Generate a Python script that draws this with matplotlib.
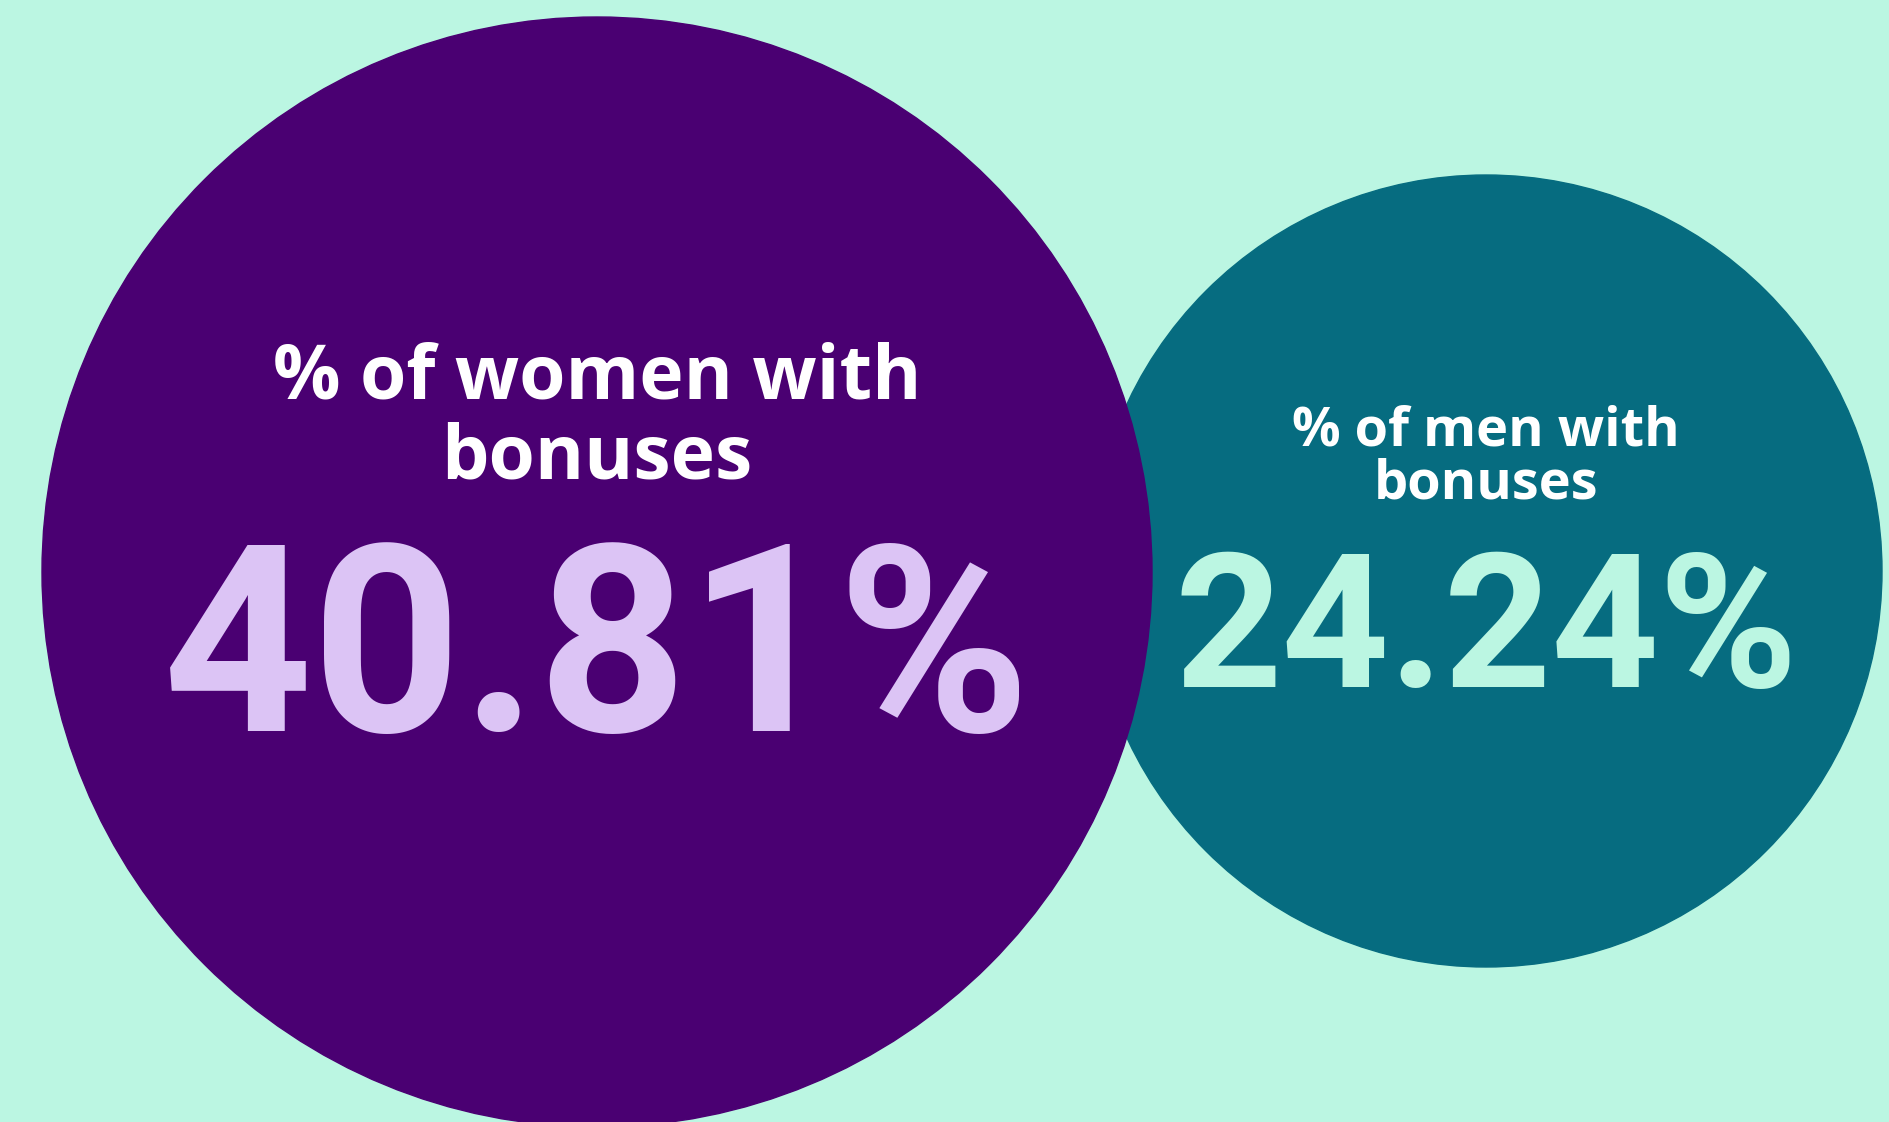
import matplotlib
matplotlib.use("Agg")
import matplotlib.pyplot as plt
from matplotlib.patches import Circle

# values shown in the two bubbles
labels = ["% of women with\nbonuses", "% of men with\nbonuses"]
values = [40.81, 24.24]

bg = "#bbf6e2"
circle_colors = ["#4a0072", "#066c80"]
number_colors = ["#dcc4f5", "#bbf6e2"]

W, H = 1889, 1122
fig = plt.figure(figsize=(W / 100, H / 100), dpi=100, facecolor=bg)
ax = fig.add_axes([0, 0, 1, 1])
ax.set_xlim(0, W)
ax.set_ylim(H, 0)
ax.set_aspect("equal")
ax.axis("off")

# circle geometry (pixels), men drawn first so women sits on top
centers = [(597, 572), (1486, 571)]
radii = [555, 396]
for i in [1, 0]:
    ax.add_patch(Circle(centers[i], radii[i], color=circle_colors[i], zorder=i * -1 + 2))

label_base = [398, 445]
label_gap = [80, 53]
label_size = [54, 39]
num_base = [731, 687]
num_size = [188, 135]

for i in range(2):
    cx = centers[i][0]
    for j, line in enumerate(labels[i].split("\n")):
        ax.text(cx, label_base[i] + j * label_gap[i], line, color="white",
                fontsize=label_size[i], fontfamily="Open Sans", fontweight="bold",
                ha="center", va="baseline", zorder=5)
    ax.text(cx, num_base[i], f"{values[i]:.2f}%", color=number_colors[i],
            fontsize=num_size[i], fontfamily="Roboto", fontweight="bold",
            ha="center", va="baseline", zorder=5)

fig.savefig("out.png", dpi=100, facecolor=bg)
